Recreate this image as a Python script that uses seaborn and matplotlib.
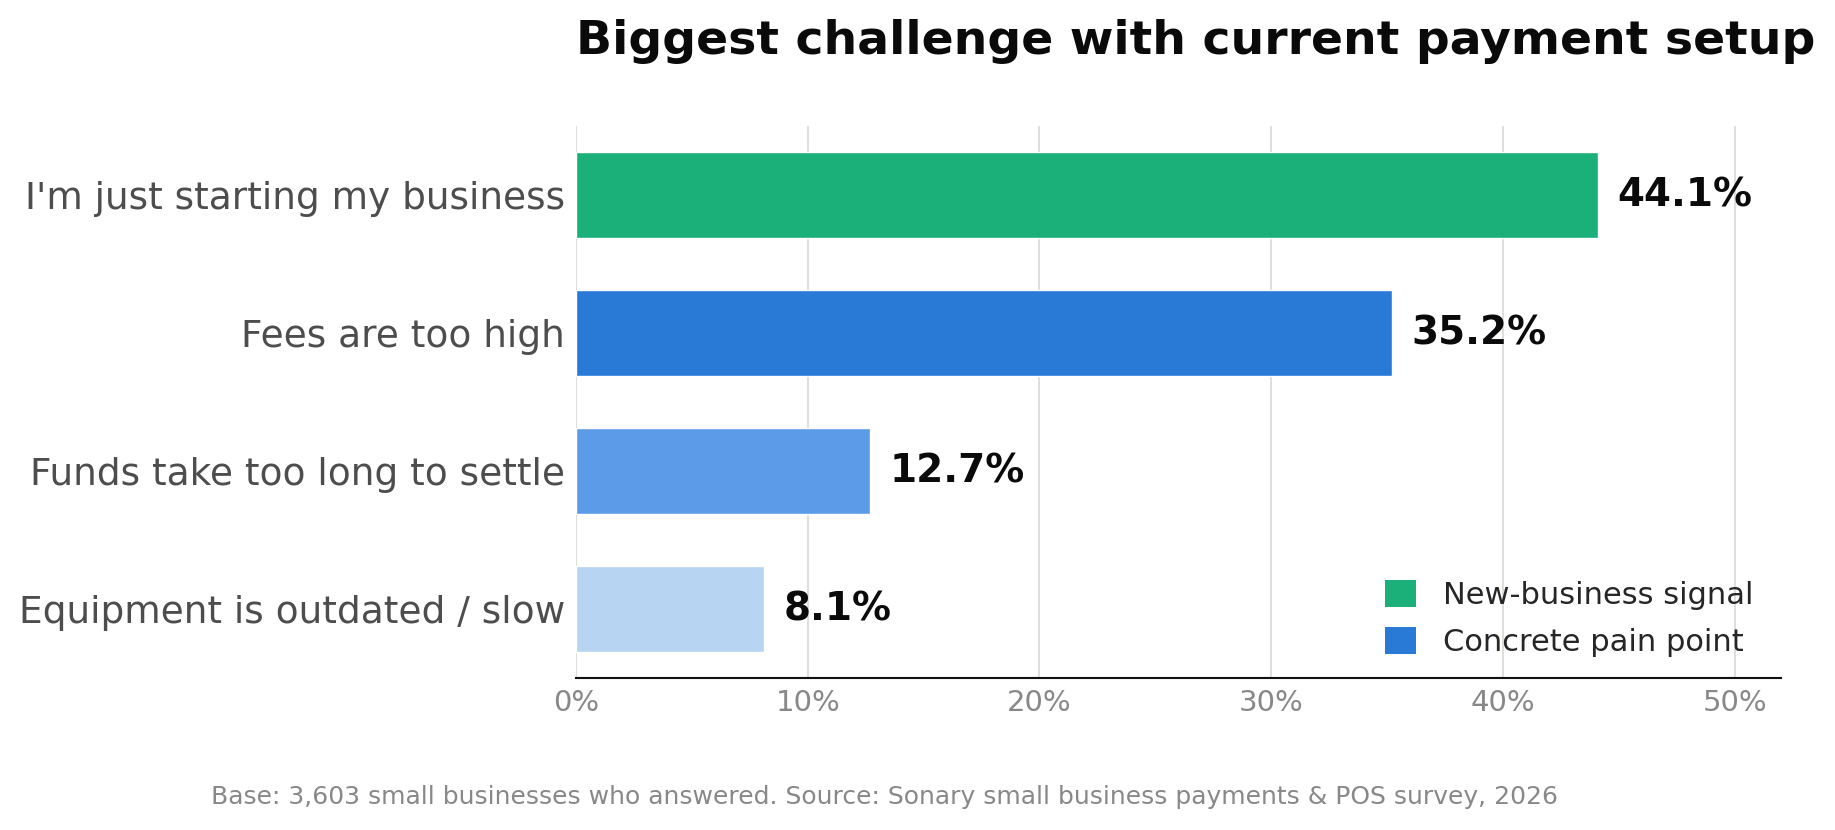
import matplotlib
matplotlib.use("Agg")
import matplotlib.pyplot as plt
from matplotlib.patches import Patch
from matplotlib.ticker import FuncFormatter
import pandas as pd
import seaborn as sns

# ----- data -----
challenges = [
    "I'm just starting my business",
    "Fees are too high",
    "Funds take too long to settle",
    "Equipment is outdated / slow",
]
share_pct = [44.1, 35.2, 12.7, 8.1]
bar_colors = ["#1BAF7A", "#2979D6", "#5B9BE8", "#B7D4F3"]
legend_labels = ["New-business signal", "Concrete pain point"]
legend_colors = ["#1BAF7A", "#2979D6"]
x_ticks = [0, 10, 20, 30, 40, 50]

title = "Biggest challenge with current payment setup"
footnote = ("Base: 3,603 small businesses who answered. "
            "Source: Sonary small business payments & POS survey, 2026")

df = pd.DataFrame({"challenge": challenges, "share": share_pct})

sns.set_theme(style="white")
plt.rcParams["font.family"] = ["DejaVu Sans"]

fig = plt.figure(figsize=(18.35, 8.3), dpi=100)
ax = fig.add_axes([0.3139, 0.183, 0.6567, 0.665])

sns.barplot(data=df, x="share", y="challenge", hue="challenge",
            palette=bar_colors, legend=False, width=0.62,
            saturation=1, ax=ax)

# value labels
for i, v in enumerate(share_pct):
    ax.text(v + 0.85, i, f"{v:.1f}%", va="center", ha="left",
            fontsize=28, fontweight="bold", color="#0a0a0a")

ax.set_xlim(0, 52)
ax.set_xticks(x_ticks)
ax.xaxis.set_major_formatter(FuncFormatter(lambda x, _: f"{x:.0f}%"))
ax.tick_params(axis="x", labelsize=21, labelcolor="#888888", length=0, pad=8)
ax.tick_params(axis="y", labelsize=27, labelcolor="#4d4d4d", length=0, pad=8)
ax.set_xlabel("")
ax.set_ylabel("")

ax.grid(axis="x", color="#dcdcd6", linewidth=1.3)
ax.grid(axis="y", visible=False)
ax.set_axisbelow(True)
for side in ["left", "right", "top"]:
    ax.spines[side].set_visible(False)
ax.spines["bottom"].set_color("#111111")
ax.spines["bottom"].set_linewidth(1.5)

handles = [Patch(facecolor=c, edgecolor="none") for c in legend_colors]
ax.legend(handles, legend_labels, loc="lower right", frameon=False,
          fontsize=22, handlelength=1.0, handleheight=1.0,
          handletextpad=0.9, labelspacing=0.55,
          bbox_to_anchor=(1.0, -0.012))

fig.text(0.3139, 0.95, title, ha="left", va="center",
         fontsize=34, fontweight="bold", color="#0a0a0a")
fig.text(0.482, 0.04, footnote, ha="center", va="center",
         fontsize=18, color="#888888")

fig.savefig("out.png", dpi=100)
